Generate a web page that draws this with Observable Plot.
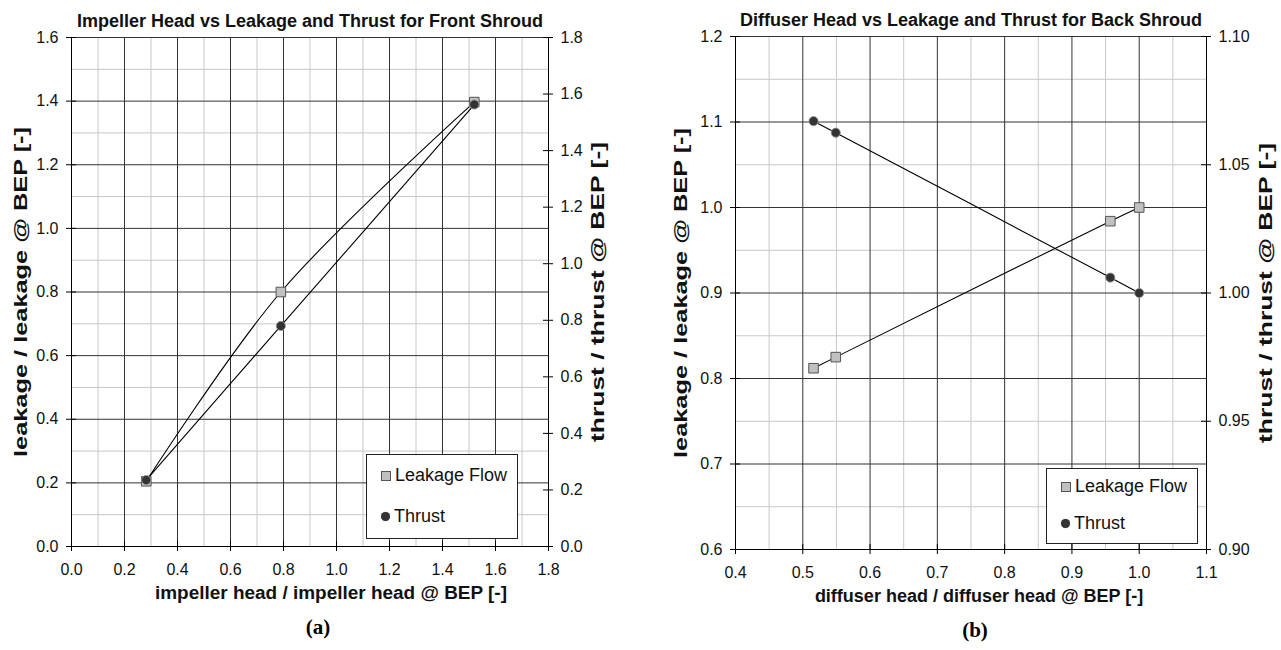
<!DOCTYPE html>
<html>
<head>
<meta charset="utf-8">
<script src="https://cdn.jsdelivr.net/npm/d3@7"></script>
<script src="https://cdn.jsdelivr.net/npm/@observablehq/plot@0.6"></script>
<style>
  html, body { margin:0; padding:0; background:#fff; }
  #wrap { position:relative; width:1281px; height:650px; overflow:hidden; font-family:"Liberation Sans", Arial, sans-serif; }
  .panel { position:absolute; top:0; }
  .legend { position:absolute; background:#fff; border:1px solid #222; box-sizing:border-box; font-size:18px; color:#111; }
  .legend .row { position:absolute; left:0; display:flex; align-items:center; white-space:nowrap; }
  .sq { display:inline-block; width:8px; height:8px; background:#c0c0c0; border:1px solid #555; margin-right:4px; }
  .ci { display:inline-block; width:9px; height:9px; border-radius:50%; background:#333; margin-right:4px; box-shadow:0 0 1px #888; }
</style>
</head>
<body>
<div id="wrap"></div>
<script>
// ---------- Data: panel (a) Impeller / front shroud ----------
const headA   = [0.282, 0.79, 1.52];
const leakA   = [0.205, 0.80, 1.397];
const thrustA = [0.235, 0.78, 1.563];
// ---------- Data: panel (b) Diffuser / back shroud ----------
const headB   = [0.516, 0.549, 0.957, 1.0];
const leakB   = [0.812, 0.825, 0.984, 1.0];
const thrustB = [1.067, 1.0625, 1.006, 1.0];

// ---------- Axes / ticks ----------
const xDomA = [0, 1.8], yDomA = [0, 1.6], tDomA = [0, 1.8];
const xTicksA = [0, 0.2, 0.4, 0.6, 0.8, 1.0, 1.2, 1.4, 1.6, 1.8];
const xMinorA = [0.1, 0.3, 0.5, 0.7, 0.9, 1.1, 1.3, 1.5, 1.7];
const yTicksA = [0, 0.2, 0.4, 0.6, 0.8, 1.0, 1.2, 1.4, 1.6];
const yMinorA = [0.1, 0.3, 0.5, 0.7, 0.9, 1.1, 1.3, 1.5];
const tTicksA = [0, 0.2, 0.4, 0.6, 0.8, 1.0, 1.2, 1.4, 1.6, 1.8];

const xDomB = [0.4, 1.1], yDomB = [0.6, 1.2], tDomB = [0.9, 1.1];
const xTicksB = [0.4, 0.5, 0.6, 0.7, 0.8, 0.9, 1.0, 1.1];
const xMinorB = [0.45, 0.55, 0.65, 0.75, 0.85, 0.95, 1.05];
const yTicksB = [0.6, 0.7, 0.8, 0.9, 1.0, 1.1, 1.2];
const yMinorB = [0.65, 0.75, 0.85, 0.95, 1.05, 1.15];
const tTicksB = [0.90, 0.95, 1.00, 1.05, 1.10];

const titleA = "Impeller Head vs Leakage and Thrust for Front Shroud";
const titleB = "Diffuser Head vs Leakage and Thrust for Back Shroud";
const xLabelA = "impeller head / impeller head @ BEP [-]";
const xLabelB = "diffuser head / diffuser head @ BEP [-]";
const yLabel = "leakage / leakage @ BEP [-]";
const tLabel = "thrust / thrust @ BEP [-]";
const seriesNames = ["Leakage Flow", "Thrust"];

const FONT = "'Liberation Sans', Arial, sans-serif";
const MAJOR = "#333", MINOR = "#c8c8c8";

function panel(cfg) {
  const {xDom, yDom, tDom, xTicks, xMinor, yTicks, yMinor, tTicks, head, leak, thrust,
         title, xLabel, tag, width, ml, mr, mt, mb, tDigits} = cfg;
  // map secondary (thrust) axis values into the primary y domain
  const toY = t => yDom[0] + (t - tDom[0]) / (tDom[1] - tDom[0]) * (yDom[1] - yDom[0]);
  const leakData = head.map((h, i) => ({h, v: leak[i]}));
  const thrData = head.map((h, i) => ({h, v: toY(thrust[i])}));
  const tPos = tTicks.map(toY);
  const fmtT = v => tTicks[tPos.findIndex(p => Math.abs(p - v) < 1e-9)].toFixed(tDigits);
  return Plot.plot({
    width, height: 650,
    marginLeft: ml, marginRight: mr, marginTop: mt, marginBottom: mb,
    style: {fontFamily: FONT, fontSize: "16px", color: "#111", background: "transparent"},
    x: {domain: xDom},
    y: {domain: yDom},
    marks: [
      Plot.gridX(xMinor, {stroke: MINOR, strokeOpacity: 1}),
      Plot.gridY(yMinor, {stroke: MINOR, strokeOpacity: 1}),
      Plot.gridX(xTicks, {stroke: MAJOR, strokeOpacity: 1}),
      Plot.gridY(yTicks, {stroke: MAJOR, strokeOpacity: 1}),
      Plot.ruleX([xDom[0], xDom[1]], {stroke: "#000"}),
      Plot.ruleY([yDom[0]], {stroke: "#000"}),
      // crossing tick marks
      Plot.ruleX(xTicks, {x: d => d, y1: yDom[0], y2: yDom[0], insetTop: -5, insetBottom: -5, stroke: "#000"}),
      Plot.ruleY(yTicks, {y: d => d, x1: xDom[0], x2: xDom[0], insetLeft: -5, insetRight: -5, stroke: "#000"}),
      Plot.ruleY(tPos, {y: d => d, x1: xDom[1], x2: xDom[1], insetLeft: -5, insetRight: -5, stroke: "#000"}),
      // tick labels
      Plot.axisX(xTicks, {anchor: "bottom", tickSize: 0, tickPadding: 17, tickFormat: d => d.toFixed(1), label: null, fontSize: 16}),
      Plot.axisY(yTicks, {anchor: "left", tickSize: 0, tickPadding: 13, tickFormat: d => d.toFixed(1), label: null, fontSize: 16}),
      Plot.axisY(tPos, {anchor: "right", tickSize: 0, tickPadding: 12, tickFormat: fmtT, label: null, fontSize: 16}),
      // series
      Plot.line(leakData, {x: "h", y: "v", stroke: "#000", strokeWidth: 1.1, curve: "catmull-rom"}),
      Plot.line(thrData, {x: "h", y: "v", stroke: "#000", strokeWidth: 1.1, curve: "catmull-rom"}),
      Plot.dot(leakData, {x: "h", y: "v", symbol: "square", r: 5.4, fill: "#c0c0c0", stroke: "#555", strokeWidth: 1}),
      Plot.dot(thrData, {x: "h", y: "v", symbol: "circle", r: 4.6, fill: "#333", stroke: "#999", strokeWidth: 0.8}),
      // titles & labels
      Plot.text([title], {frameAnchor: "top", dy: -23, fontWeight: "bold", fontSize: 18, fill: "#111", textAnchor: "middle"}),
      Plot.text([xLabel], {frameAnchor: "bottom", dy: 52, dx: cfg.xOff, fontWeight: "bold", fontSize: 18, fill: "#111", textAnchor: "middle", className: "xlab"}),
      Plot.text([yLabel], {frameAnchor: "left", dx: cfg.yOff, rotate: -90, fontWeight: "bold", fontSize: 18, fill: "#111", textAnchor: "middle", className: "ylab"}),
      Plot.text([tLabel], {frameAnchor: "right", dx: cfg.tOff, rotate: -90, fontWeight: "bold", fontSize: 18, fill: "#111", textAnchor: "middle", className: "tlab"}),
      Plot.text([tag], {frameAnchor: "bottom", dy: 87, dx: cfg.tagOff, fontWeight: "bold", fontSize: 21, fontFamily: "'Liberation Serif', 'Times New Roman', serif", fill: "#000", textAnchor: "middle"})
    ]
  });
}

const wrap = document.getElementById("wrap");

const a = panel({xDom: xDomA, yDom: yDomA, tDom: tDomA, xTicks: xTicksA, xMinor: xMinorA, yTicks: yTicksA, yMinor: yMinorA,
  tTicks: tTicksA, head: headA, leak: leakA, thrust: thrustA, title: titleA, xLabel: xLabelA, tag: "(a)",
  width: 640, ml: 71, mr: 92, mt: 37, mb: 104, tDigits: 1, tOff: 50, yOff: -50, xOff: 21, tagOff: 8});
const da = document.createElement("div"); da.className = "panel"; da.style.left = "0px"; da.appendChild(a); wrap.appendChild(da);

const b = panel({xDom: xDomB, yDom: yDomB, tDom: tDomB, xTicks: xTicksB, xMinor: xMinorB, yTicks: yTicksB, yMinor: yMinorB,
  tTicks: tTicksB, head: headB, leak: leakB, thrust: thrustB, title: titleB, xLabel: xLabelB, tag: "(b)",
  width: 641, ml: 95, mr: 75, mt: 36, mb: 101, tDigits: 2, tOff: 60, yOff: -54, xOff: 8, tagOff: 4});
const db = document.createElement("div"); db.className = "panel"; db.style.left = "640px"; db.appendChild(b); wrap.appendChild(db);

// stretch the rotated axis titles to the length they have in the reference
d3.selectAll("g.ylab text").attr("textLength", 330).attr("lengthAdjust", "spacingAndGlyphs");
d3.selectAll("g.tlab text").attr("textLength", 300).attr("lengthAdjust", "spacingAndGlyphs");
d3.select(a).selectAll("g.xlab text").attr("textLength", 352).attr("lengthAdjust", "spacingAndGlyphs");

function legend(left, top, w, h, y1, y2) {
  const L = document.createElement("div");
  L.className = "legend";
  Object.assign(L.style, {left: left + "px", top: top + "px", width: w + "px", height: h + "px"});
  const r1 = document.createElement("div"); r1.className = "row";
  r1.style.top = (y1 - 11) + "px"; r1.style.left = "14px";
  r1.innerHTML = '<span class="sq"></span><span></span>';
  r1.lastChild.textContent = seriesNames[0];
  const r2 = document.createElement("div"); r2.className = "row";
  r2.style.top = (y2 - 11) + "px"; r2.style.left = "14px";
  r2.innerHTML = '<span class="ci"></span><span></span>';
  r2.lastChild.textContent = seriesNames[1];
  L.appendChild(r1); L.appendChild(r2);
  wrap.appendChild(L);
}
legend(366, 454, 152, 85, 21, 62);
legend(1046, 468, 152, 76, 18, 55);
</script>
</body>
</html>
